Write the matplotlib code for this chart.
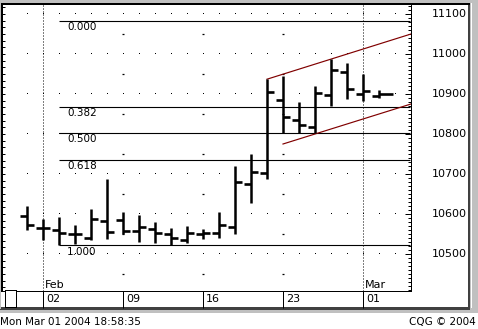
import matplotlib
matplotlib.use("Agg")
import matplotlib.pyplot as plt
import matplotlib.transforms as mtransforms
from matplotlib.patches import Rectangle
from matplotlib.ticker import MultipleLocator

# Daily bars, Jan 30 .. Mar 02 2004 (x = trading day index)
days = list(range(23))
opens = [10595, 10564, 10560, 10549, 10541, 10582, 10585, 10558, 10562, 10549, 10536, 10549,
         10553, 10568, 10674, 10702, 10885, 10835, 10817, 10897, 10954, 10901, 10894]
highs = [10620, 10587, 10592, 10572, 10612, 10687, 10605, 10598, 10581, 10566, 10570, 10562,
         10605, 10720, 10750, 10937, 10945, 10881, 10920, 10987, 10977, 10950, 10910]
lows = [10560, 10535, 10522, 10525, 10535, 10538, 10550, 10531, 10528, 10522, 10528, 10537,
        10541, 10549, 10628, 10687, 10802, 10802, 10802, 10870, 10887, 10883, 10890]
closes = [10572, 10564, 10552, 10549, 10587, 10555, 10558, 10568, 10552, 10539, 10552, 10552,
          10572, 10679, 10706, 10904, 10842, 10822, 10902, 10960, 10912, 10907, 10900]

# retracement between these two levels, drawn from day 2
fib_high = 11082.5
fib_low = 10522
fib_start = 2
fib_ratios = [0.0, 0.382, 0.5, 0.618, 1.0]
fib_labels = ["0.000", "0.382", "0.500", "0.618", "1.000"]

# trend channel (day, price)
upper_x = [15, 24]
upper_y = [10937, 11050]
lower_x = [16, 24]
lower_y = [10775, 10875]

price_ticks = [10500, 10600, 10700, 10800, 10900, 11000, 11100]
week_days = [1, 6, 11, 16, 21]
week_labels = ["02", "09", "16", "23", "01"]
month_days = [1, 21]
month_labels = ["Feb", "Mar"]

W, H = 478, 329
fig = plt.figure(figsize=(W / 100, H / 100), dpi=100, facecolor="white")


def px_rect(x0, y0, x1, y1, color, z=0):
    fig.add_artist(Rectangle((x0 / W, 1 - y1 / H), (x1 - x0) / W, (y1 - y0) / H,
                             transform=fig.transFigure, facecolor=color, lw=0, zorder=z))


# window frame
px_rect(0, 0, W, 3, "#c0c0c0")
px_rect(470, 0, W, 313, "#c0c0c0")
px_rect(471, 3, 472, 308, "white")
px_rect(468, 3, 470, 309, "#404040")
px_rect(0, 307, 470, 309.5, "#404040")
px_rect(0, 309.5, W, 313, "#c0c0c0")
px_rect(0, 3, 412, 5, "black")
px_rect(410, 3, 470, 5, "black")
px_rect(0, 3, 1, 309, "#c0c0c0")

ax = fig.add_axes([2 / W, 1 - 290.5 / H, 408.5 / W, 286.5 / H])
ax.set_xlim((2 - 27) / 16, (410.5 - 27) / 16)
ax.set_ylim(10408.75, 11125)
for s in ["top", "left"]:
    ax.spines[s].set_linewidth(1.44)
for s in ["bottom", "right"]:
    ax.spines[s].set_linewidth(0.72)

# left border ticks
ax.yaxis.set_major_locator(MultipleLocator(100 / 6))
ax.tick_params(axis="y", direction="in", length=2.5, width=0.72, labelleft=False)
# right price axis ticks
sec = ax.secondary_yaxis("right")
sec.yaxis.set_major_locator(MultipleLocator(100))
sec.yaxis.set_minor_locator(MultipleLocator(10))
sec.tick_params(which="major", direction="in", length=4, width=0.72, labelright=False)
sec.tick_params(which="minor", direction="in", length=2.2, width=0.72)
sec.spines["right"].set_linewidth(0.72)

# week ticks in the date strip
ax.set_xticks(week_days)
ax.tick_params(axis="x", direction="out", length=12, width=0.72, labelbottom=False)

# dotted grid
grid_days = days + [23]
for p in price_ticks:
    ax.plot(grid_days, [p] * len(grid_days), ",", color="black", zorder=1)
half = [p + 50 for p in [10400] + price_ticks]
for d in week_days[1:4]:
    ax.plot([d] * len(half), half, "_", color="black", ms=1.8, mew=0.9, zorder=1)
for d in month_days:
    ax.axvline(d, color="black", lw=0.72, ls=(0, (1, 2)), zorder=1)

# fibonacci retracement lines
span = fib_high - fib_low
x_end = ax.get_xlim()[1]
for r, lab in zip(fib_ratios, fib_labels):
    lvl = fib_high - r * span
    ax.hlines(lvl, fib_start, x_end, color="black", lw=0.8, zorder=2)
    ax.annotate(lab, (fib_start + 0.5, lvl), xytext=(0, -1), textcoords="offset points",
                ha="left", va="top", fontsize=7.5, family="DejaVu Sans")

# channel
ax.plot(upper_x, upper_y, color="#800000", lw=0.85, zorder=3)
ax.plot(lower_x, lower_y, color="#800000", lw=0.85, zorder=3)

# OHLC bars
tk = 0.42
ax.vlines(days, lows, highs, color="black", lw=1.8, zorder=4, capstyle="butt")
ax.hlines(opens, [d - tk for d in days], days, color="black", lw=1.9, zorder=4)
close_end = [d + tk for d in days]
close_end[-1] = days[-1] + 0.875
ax.hlines(closes, days, close_end, color="black", lw=1.9, zorder=4)

# price labels
tr = mtransforms.blended_transform_factory(fig.transFigure, ax.transData)
for p in price_ticks:
    fig.text(467 / W, p, str(p), transform=tr, ha="right", va="center", fontsize=8)

# date labels
for d, lab in zip(week_days, week_labels):
    ax.annotate(lab, (d, 0), xycoords=("data", "axes fraction"), xytext=(2.2, -8.5),
                textcoords="offset points", ha="left", va="baseline", fontsize=8)
for d, lab in zip(month_days, month_labels):
    ax.annotate(lab, (d, 0), xycoords=("data", "axes fraction"), xytext=(1.5, 1.6),
                textcoords="offset points", ha="left", va="baseline", fontsize=8)

# small box at lower left
px_rect(5, 290, 16.5, 308, "black", z=5)
px_rect(6, 291, 15.5, 307, "white", z=6)

fig.text(0 / W, 1 - 322 / H, "Mon Mar 01 2004 18:58:35", ha="left", va="center", fontsize=7.5)
fig.text(476 / W, 1 - 322 / H, "CQG \u00a9 2004", ha="right", va="center", fontsize=7.5)

fig.savefig("out.png", dpi=100, facecolor="white")
